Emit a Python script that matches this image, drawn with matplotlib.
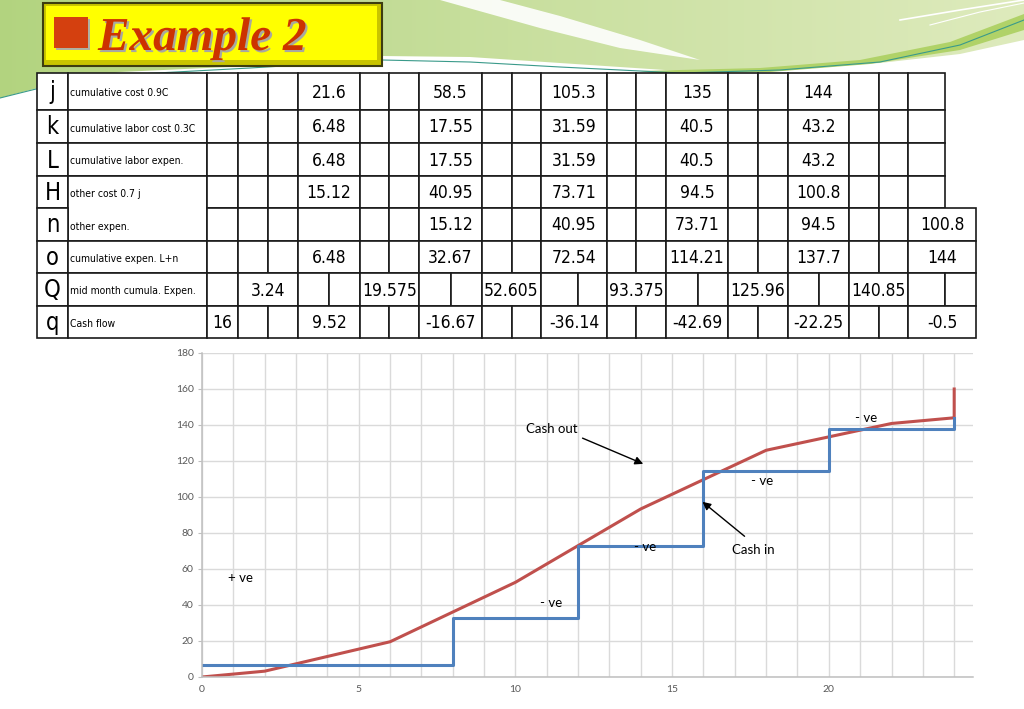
import numpy as np
import matplotlib.pyplot as plt
import matplotlib.patheffects as pe
from matplotlib.patches import Polygon, Rectangle

# chart data
months_out = [0, 2, 6, 10, 14, 18, 22, 24, 24]
cash_out = [0, 3.24, 19.575, 52.605, 93.375, 125.96, 140.85, 144, 160]
months_in = [0, 8, 12, 16, 20, 24]
cash_in = [6.48, 32.67, 72.54, 114.21, 137.7, 144]

# table data
row_keys = ['j', 'k', 'L', 'H', 'n', 'o', 'Q', 'q']
row_names = ['cumulative cost 0.9C', 'cumulative labor cost 0.3C',
             'cumulative labor expen.', 'other cost 0.7 j', 'other expen.',
             'cumulative expen. L+n', 'mid month cumula. Expen.', 'Cash flow']
cum_cost_j = [21.6, 58.5, 105.3, 135, 144]
labor_cost_k = [6.48, 17.55, 31.59, 40.5, 43.2]
labor_exp_L = [6.48, 17.55, 31.59, 40.5, 43.2]
other_cost_H = [15.12, 40.95, 73.71, 94.5, 100.8]
other_exp_n = [15.12, 40.95, 73.71, 94.5, 100.8]
cum_exp_o = [6.48, 32.67, 72.54, 114.21, 137.7, 144]
mid_month_Q = [3.24, 19.575, 52.605, 93.375, 125.96, 140.85]
cash_flow_q = [16, 9.52, -16.67, -36.14, -42.69, -22.25, -0.5]

W, H = 1024, 709
fig = plt.figure(figsize=(W / 100, H / 100), dpi=100)
bg = fig.add_axes([0, 0, 1, 1])
bg.set_xlim(0, W)
bg.set_ylim(H, 0)
bg.axis('off')


def gradient_fill(ax, verts, c_left, c_right, x0, x1, z=0):
    poly = Polygon(verts, closed=True, facecolor='none', edgecolor='none')
    ax.add_patch(poly)
    t = np.linspace(0, 1, 256)
    a = np.array(c_left)[None, :]
    b = np.array(c_right)[None, :]
    img = (a * (1 - t[:, None]) + b * t[:, None])[None, :, :]
    im = ax.imshow(img, extent=(x0, x1, 110, 0), aspect='auto', zorder=z)
    im.set_clip_path(poly)


# slide background swoosh
band = [(0, 0), (1024, 0), (1024, 40), (960, 54), (880, 63), (780, 70),
        (680, 71), (560, 63), (470, 57), (382, 56), (250, 66), (120, 72),
        (45, 86), (0, 98)]
gradient_fill(bg, band, (0.70, 0.83, 0.50), (0.87, 0.92, 0.74), 0, 1024)
stripe = [(640, 71), (760, 68), (860, 60), (950, 42), (1024, 14), (1024, 30),
          (960, 50), (870, 64), (770, 72), (660, 74)]
bg.add_patch(Polygon(stripe, closed=True, fc='#b0d268', ec='none', zorder=1))
wedge = [(440, 0), (500, 0), (560, 16), (640, 40), (700, 60), (620, 48),
         (540, 28)]
bg.add_patch(Polygon(wedge, closed=True, fc='white', ec='none', alpha=0.9, zorder=1))
bg.plot([0, 40, 120, 250, 382, 470, 560, 680, 780, 880, 960, 1024],
        [98, 88, 75, 68, 60, 62, 67, 73, 70, 62, 45, 20],
        color='#3a9a8a', lw=0.8, zorder=1)
bg.plot([900, 960, 1024], [20, 10, 0], color='white', lw=1.2, zorder=1)
bg.plot([930, 980, 1024], [25, 12, 3], color='white', lw=0.8, zorder=1)

# title box
bg.add_patch(Rectangle((43, 3), 339, 63, fc='#c9c400', ec='#3d3d10', lw=1.5, zorder=3))
bg.add_patch(Rectangle((46, 6), 331, 54, fc='#ffff00', ec='none', zorder=3))
bg.add_patch(Rectangle((56, 19), 34, 31, fc='#b0b0a0', ec='none', zorder=4))
bg.add_patch(Rectangle((54, 17), 34, 31, fc='#d4400f', ec='none', zorder=4))
bg.text(98, 50, 'Example 2', fontsize=34, fontweight='bold', fontstyle='italic',
        family=['Liberation Serif', 'DejaVu Serif'], color='#cc3300', zorder=4,
        path_effects=[pe.withSimplePatchShadow(offset=(1.5, -1.5), shadow_rgbFace='#a8a8a0', alpha=1.0)])

# table
cond = dict(family='DejaVu Sans', fontstretch='condensed', color='black', zorder=3)
unit_px = [207, 238, 268, 298, 329, 360, 389, 419, 451, 482, 512, 541, 578,
           607, 636, 666, 698, 728, 758, 788, 819, 849, 879, 908, 945, 976]
row_y = [73, 110, 143, 176, 208, 241, 273, 306, 338]
edges_a = [0, 1, 2, 3, 5, 6, 7, 9, 10, 11, 13, 14, 15, 17, 18, 19, 21, 22, 23, 24]
edges_b = edges_a[:-1] + [25]
edges_c = [0, 1, 3, 4, 5, 7, 8, 9, 11, 12, 13, 15, 16, 17, 19, 20, 21, 23, 24, 25]
rows = [
    (edges_a, [3, 7, 11, 15, 19], cum_cost_j),
    (edges_a, [3, 7, 11, 15, 19], labor_cost_k),
    (edges_a, [3, 7, 11, 15, 19], labor_exp_L),
    (edges_a, [3, 7, 11, 15, 19], other_cost_H),
    (edges_b, [7, 11, 15, 19, 23], other_exp_n),
    (edges_b, [3, 7, 11, 15, 19, 23], cum_exp_o),
    (edges_c, [1, 5, 9, 13, 17, 21], mid_month_Q),
    (edges_b, [0, 3, 7, 11, 15, 19, 23], cash_flow_q),
]
lc = '#1a1a1a'
lw = 1.2
for i, (edges, starts, vals) in enumerate(rows):
    y0, y1 = row_y[i], row_y[i + 1]
    ym = (y0 + y1) / 2
    bg.add_patch(Rectangle((37, y0), 31, y1 - y0, fc='white', ec=lc, lw=lw, zorder=2))
    bg.text(52.5, ym + 1, row_keys[i], ha='center', va='center', fontsize=17, **cond)
    if i != 4:
        y_end = row_y[i + 2] if i == 3 else y1
        bg.add_patch(Rectangle((68, y0), 139, y_end - y0, fc='white', ec=lc,
                               lw=lw, zorder=2))
    bg.text(70, ym + 2, row_names[i], ha='left', va='center', fontsize=7.5, **cond)
    vi = iter(vals)
    for a, b in zip(edges[:-1], edges[1:]):
        x0, x1 = unit_px[a], unit_px[b]
        bg.add_patch(Rectangle((x0, y0), x1 - x0, y1 - y0, fc='white', ec=lc,
                               lw=lw, zorder=2))
        if a in starts:
            bg.text((x0 + x1) / 2, ym + 1, '{:g}'.format(next(vi)), ha='center',
                    va='center', fontsize=12.5, **cond)

# chart
ax = fig.add_axes([202 / W, (H - 677) / H, (973 - 202) / W, (677 - 353) / H])
ax.set_zorder(2)
ax.set_xlim(0, 24.6)
ax.set_ylim(0, 180)
ax.set_xticks(range(0, 25, 5))
ax.set_xticks(range(0, 25), minor=True)
ax.set_yticks(range(0, 181, 20))
ax.grid(True, which='both', axis='x', color='#dadada', lw=1.0)
ax.grid(True, which='major', axis='y', color='#dadada', lw=1.0)
ax.set_axisbelow(True)
for s in ['top', 'right']:
    ax.spines[s].set_visible(False)
for s in ['left', 'bottom']:
    ax.spines[s].set_color('#bfbfbf')
    ax.spines[s].set_linewidth(1.1)
ax.tick_params(axis='y', length=3, color='#bfbfbf', labelsize=7.5, labelcolor='#595959', pad=3)
ax.tick_params(axis='x', which='both', length=0, labelsize=7.5, labelcolor='#595959', pad=6)
for lab in ax.get_xticklabels() + ax.get_yticklabels():
    lab.set_family('Lato')

ax.plot(months_out, cash_out, color='#c0504d', lw=2.2, solid_joinstyle='round')
ax.plot(months_in, cash_in, color='#4f81bd', lw=2.2, drawstyle='steps-post')

note = dict(fontsize=9.5, family='Lato', color='black')
ax.text(11.16, 137.8, 'Cash out', ha='center', va='center', **note)
ax.annotate('', xy=(14.16, 117.8), xytext=(12.06, 133.3),
            arrowprops=dict(arrowstyle='-|>', color='black', lw=1, mutation_scale=12))
ax.text(17.6, 70.6, 'Cash in', ha='center', va='center', **note)
ax.annotate('', xy=(15.9, 98.3), xytext=(17.38, 77.2),
            arrowprops=dict(arrowstyle='-|>', color='black', lw=1, mutation_scale=12))
ax.text(21.18, 143.9, '- ve', ha='center', va='center', **note)
ax.text(17.86, 108.9, '- ve', ha='center', va='center', **note)
ax.text(14.13, 72.2, '- ve', ha='center', va='center', **note)
ax.text(11.13, 41.1, '- ve', ha='center', va='center', **note)
ax.text(1.24, 55, '+ ve', ha='center', va='center', **note)

fig.savefig('out.png', dpi=100)
